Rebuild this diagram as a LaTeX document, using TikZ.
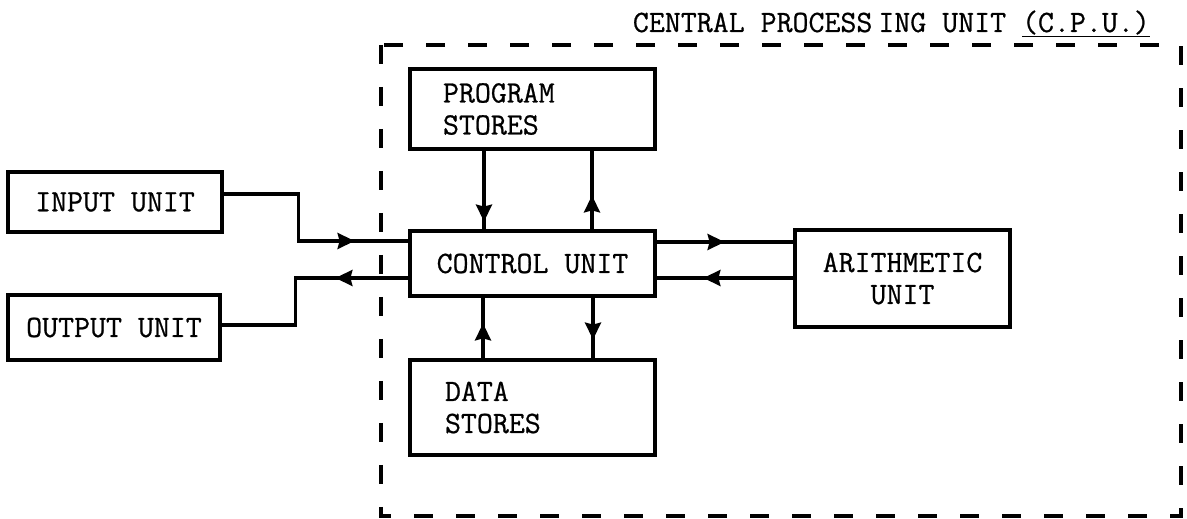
\documentclass[tikz,border=0pt]{standalone}
\usepackage{fontspec}
\usetikzlibrary{arrows.meta,decorations.markings}
\newfontfamily\twfont[FakeBold=0.7]{Latin Modern Mono}
\newcommand\diagfont{\twfont\fontsize{31}{32}\selectfont}
\tikzset{
 box/.style={draw, line width=3.2pt, inner sep=0pt, font=\diagfont},
 conn/.style={line width=3.2pt},
 tipat/.style={postaction={decorate, decoration={markings, mark=at position #1 with {\arrow{Stealth[length=17pt,width=16pt,inset=2pt]}}}}},
 frame/.style={line width=3.4pt, dash pattern=on 19pt off 23pt},
}
\begin{document}
\begin{tikzpicture}[x=1pt,y=1pt]
\useasboundingbox (0,0) rectangle (1187,519);
\draw[frame] (381,474) rectangle (1181,3);
\node[anchor=base east, font=\diagfont, inner sep=0pt] (title) at (1150,487) {CENTRAL PROCESS\kern6pt ING UNIT \underline{(C.P.U.)}};
\node[box, minimum width=214pt, minimum height=60pt] (inp) at (115,317) {INPUT UNIT};
\node[box, minimum width=212pt, minimum height=65pt] (out) at (114,191.5) {OUTPUT UNIT};
\node[box, minimum width=245pt, minimum height=65pt] (ctrl) at (532.5,255.5) {CONTROL UNIT};
\node[box, minimum width=245pt, minimum height=80pt, text width=179pt, align=left] (prog) at (532.5,410) {PROGRAM\\STORES};
\node[box, minimum width=245pt, minimum height=95pt, text width=175pt, align=left] (data) at (532.5,111.5) {DATA\\STORES};
\node[box, minimum width=215pt, minimum height=97pt, align=center] (arith) at (902.5,240.5) {ARITHMETIC\\UNIT};
\draw[conn, tipat=178pt] ([yshift=8pt]inp.east) -- ++(75,0) |- ([yshift=22.5pt]ctrl.west);
\draw[conn, tipat=73pt] ([yshift=-14.5pt]ctrl.west) -- ++(-113,0) |- ([yshift=2.5pt]out.east);
\draw[conn, tipat=68pt] ([yshift=21.5pt]ctrl.east) -- ([yshift=36.5pt]arith.west);
\draw[conn, tipat=90pt] ([yshift=0.5pt]arith.west) -- ([yshift=-14.5pt]ctrl.east);
\draw[conn, tipat=71pt] ([xshift=-48.5pt]prog.south) -- ([xshift=-48.5pt]ctrl.north);
\draw[conn, tipat=34pt] ([xshift=59.5pt]ctrl.north) -- ([xshift=59.5pt]prog.south);
\draw[conn, tipat=35pt] ([xshift=-49.5pt]data.north) -- ([xshift=-49.5pt]ctrl.south);
\draw[conn, tipat=42pt] ([xshift=60.5pt]ctrl.south) -- ([xshift=60.5pt]data.north);
\end{tikzpicture}
\end{document}
